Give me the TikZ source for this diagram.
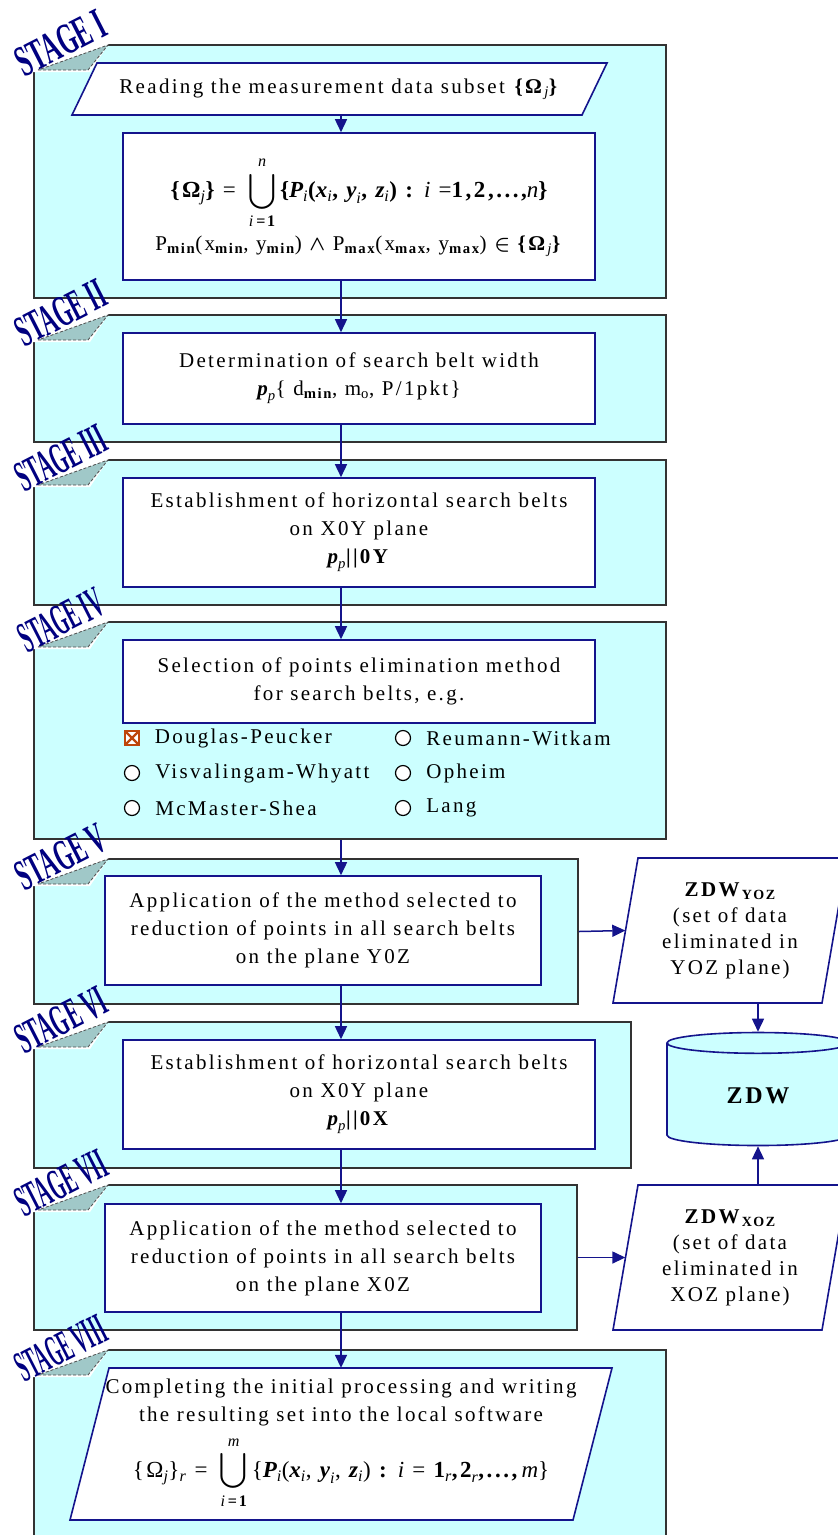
\documentclass[tikz,border=0pt]{standalone}
\usepackage{amsmath}
\usepackage{exscale}
\usepackage{fontspec}
\setmainfont{Liberation Serif}[LetterSpace=11]
\newfontfamily\lblfont{Liberation Serif}
\usetikzlibrary{shapes.geometric, arrows.meta, positioning}
\definecolor{panelcyan}{RGB}{204,255,255}
\definecolor{boxnavy}{RGB}{20,20,140}
\definecolor{lblnavy}{RGB}{0,0,128}
\definecolor{tabgrey}{RGB}{160,200,200}
\definecolor{checkred}{RGB}{190,70,10}
\newcommand{\boxfont}{\fontsize{21}{28}\selectfont}
\newcommand{\frmfont}{\fontsize{23}{28}\selectfont}
\newcommand{\bsym}[1]{\text{\bfseries #1}}
\newcommand{\bis}[1]{\text{\bfseries\itshape #1}}
% grey tab + word-art label at the top left corner of a stage panel (top edge y=#2)
\newcommand{\stagelabel}[4]{%
  \fill[white] (31,#2-3) -- (110,#2-3) -- (90,#2+27) -- (31,#2+27) -- cycle;
  \filldraw[fill=tabgrey, draw=black!70, densely dashed, line width=0.8pt] (38,#2+25) -- (88,#2+25) -- (108,#2) -- cycle;
  \node[stagelbl, xscale=#4] (#1) at (61,#2-2) {#3};}

\begin{document}
\begin{tikzpicture}[
    x=1pt, y=-1pt,
    panel/.style={rectangle, draw=black!80, line width=1.8pt, fill=panelcyan, inner sep=0},
    box/.style={rectangle, draw=boxnavy, line width=1.6pt, fill=white, align=center, inner sep=0, font=\boxfont},
    txt/.style={align=center, inner sep=0, font=\boxfont},
    paraline/.style={draw=boxnavy, line width=1.6pt, fill=white},
    arrow/.style={-{Triangle[length=13pt, width=12pt]}, line width=1.5pt, boxnavy},
    radio/.style={circle, draw=black, line width=1.2pt, fill=white, minimum size=15, inner sep=0},
    chk/.style={rectangle, draw=checkred, line width=1.2pt, fill=white, minimum size=14, inner sep=0,
        path picture={\draw[checkred, line width=2.2pt] (path picture bounding box.north west) -- (path picture bounding box.south east)
            (path picture bounding box.north east) -- (path picture bounding box.south west);}},
    opt/.style={font=\boxfont, inner sep=0},
    stagelbl/.style={font=\lblfont\fontsize{22}{22}\selectfont\bfseries, text=lblnavy, rotate=27, yscale=2.0, inner sep=0}
]
\useasboundingbox (0,0) rectangle (838,1535);
\clip (0,0) rectangle (838,1535);

% stage panels
\node[panel, minimum width=632, minimum height=253] (st1) at (350,171.5) {};
\node[panel, minimum width=632, minimum height=127] (st2) at (350,378.5) {};
\node[panel, minimum width=632, minimum height=145] (st3) at (350,532.5) {};
\node[panel, minimum width=632, minimum height=217] (st4) at (350,730.5) {};
\node[panel, minimum width=544, minimum height=145] (st5) at (306,931.5) {};
\node[panel, minimum width=597, minimum height=146] (st6) at (332.5,1095) {};
\node[panel, minimum width=543, minimum height=145] (st7) at (305.5,1257.5) {};
\node[panel, minimum width=632, minimum height=195] (st8) at (350,1447.5) {};

% stage labels
\stagelabel{lbl1}{45}{STAGE I}{1.1}
\stagelabel{lbl2}{315}{STAGE II}{1.0}
\stagelabel{lbl3}{460}{STAGE III}{0.92}
\stagelabel{lbl4}{622}{STAGE IV}{0.87}
\stagelabel{lbl5}{859}{STAGE V}{1.02}
\stagelabel{lbl6}{1022}{STAGE VI}{0.94}
\stagelabel{lbl7}{1185}{STAGE VII}{0.87}
\stagelabel{lbl8}{1350}{STAGE VIII}{0.8}

\coordinate (ax) at (341,0);
\coordinate (ax2) at (758,0);

% stage I
\draw[paraline] (97,63) -- (607,63) -- (582,115) -- (72,115) -- cycle;
\node[txt, minimum width=510, minimum height=52] (in1) at (339.5,89) {Reading the measurement data subset \textbf{\{Ω}\textsubscript{\itshape j}\textbf{\}}};
\node[box, minimum width=472, minimum height=147] (frm1) at (359,206.5) {{\frmfont$\displaystyle \bsym{\{Ω}_{\textit{j}}\bsym{\}}\text{ = }\bigcup_{\textit{i}\,\bsym{=1}}^{\textit{n}}\bsym{\{}\bis{P}_{\textit{i}}\bsym{(}\bis{x}_{\textit{i}}\bsym{, }\bis{y}_{\textit{i}}\bsym{, }\bis{z}_{\textit{i}}\bsym{) : }\textit{i}\text{ =}\bsym{1,2,...,}\textit{n}\bsym{\}}$}\\[6pt]
P\textsubscript{\bfseries min}(x\textsubscript{\bfseries min}, y\textsubscript{\bfseries min}) $\boldsymbol{\wedge}$ P\textsubscript{\bfseries max}(x\textsubscript{\bfseries max}, y\textsubscript{\bfseries max}) $\boldsymbol{\in}$ \textbf{\{Ω}\textsubscript{\itshape j}\textbf{\}}};

% stage II
\node[box, minimum width=472, minimum height=91] (box2) at (359,378.5) {Determination of search belt width\\$\bis{p}_{\textit{p}}$\{ d\textsubscript{\bfseries min}, m\textsubscript{o}, P/1pkt\}};

% stage III
\node[box, minimum width=472, minimum height=109] (box3) at (359,532.5) {Establishment of horizontal search belts\\on X0Y plane\\$\bis{p}_{\textit{p}}$\textbf{||0Y}};

% stage IV
\node[box, minimum width=472, minimum height=83] (box4) at (359,681.5) {Selection of points elimination method\\for search belts, e.g.};
\node[chk] (c1) at (132,738) {};
\node[opt, right=15pt of c1] (o1) {Douglas-Peucker};
\node[radio] (c2) at (132,773) {};
\node[opt, right=15pt of c2] (o2) {Visvalingam-Whyatt};
\node[radio] (c3) at (132,808) {};
\node[opt, right=15pt of c3] (o3) {McMaster-Shea};
\node[radio] (c4) at (403,738) {};
\node[opt, right=15pt of c4] (o4) {Reumann-Witkam};
\node[radio] (c5) at (403,773) {};
\node[opt, right=15pt of c5] (o5) {Opheim};
\node[radio] (c6) at (403,808) {};
\node[opt, right=15pt of c6] (o6) {Lang};

% stage V
\node[box, minimum width=436, minimum height=109] (box5) at (323,930.5) {Application of the method selected to\\reduction of points in all search belts\\on the plane Y0Z};

% stage VI
\node[box, minimum width=472, minimum height=109] (box6) at (359,1094.5) {Establishment of horizontal search belts\\on X0Y plane\\$\bis{p}_{\textit{p}}$\textbf{||0X}};

% stage VII
\node[box, minimum width=436, minimum height=108] (box7) at (323,1258) {Application of the method selected to\\reduction of points in all search belts\\on the plane X0Z};

% stage VIII
\draw[paraline] (109,1368) -- (612,1368) -- (573,1520) -- (70,1520) -- cycle;
\node[txt, minimum width=503, minimum height=152] (out8) at (341,1444) {Completing the initial processing and writing\\the resulting set into the local software\\[9pt]
{\frmfont$\displaystyle \text{\{Ω}_{\textit{j}}\text{\}}_{\textit{r}}\text{ = }\bigcup_{\textit{i}\,\bsym{=1}}^{\textit{m}}\text{\{}\bis{P}_{\textit{i}}\text{(}\bis{x}_{\textit{i}}\text{, }\bis{y}_{\textit{i}}\text{, }\bis{z}_{\textit{i}}\text{)}\bsym{ : }\textit{i}\text{ = }\bsym{1}_{\textit{r}}\bsym{,2}_{\textit{r}}\bsym{,...,}\,\textit{m}\text{\}}$}};

% eliminated data sets and database
\draw[paraline] (638,858) -- (847,858) -- (822,1003) -- (613,1003) -- cycle;
\node[txt, minimum width=209, minimum height=145, font=\fontsize{21}{26}\selectfont] (zyoz) at (730,930.5) {\textbf{ZDW}\raisebox{-3pt}{\fontsize{14}{14}\selectfont\bfseries YOZ}\\(set of data\\eliminated in\\YOZ plane)};
\draw[paraline] (638,1185) -- (847,1185) -- (822,1330) -- (613,1330) -- cycle;
\node[txt, minimum width=209, minimum height=145, font=\fontsize{21}{26}\selectfont] (zxoz) at (730,1257.5) {\textbf{ZDW}\raisebox{-3pt}{\fontsize{14}{14}\selectfont\bfseries XOZ}\\(set of data\\eliminated in\\XOZ plane)};
\node[cylinder, shape border rotate=90, aspect=0.3, draw=boxnavy, line width=1.6pt, fill=panelcyan, minimum width=182, minimum height=113, font=\fontsize{24}{24}\selectfont\bfseries] (zdw) at (758,1096) {ZDW};

% connectors
\draw[arrow] (in1.south -| ax) -- (frm1.north -| ax);
\draw[arrow] (frm1.south -| ax) -- (box2.north -| ax);
\draw[arrow] (box2.south -| ax) -- (box3.north -| ax);
\draw[arrow] (box3.south -| ax) -- (box4.north -| ax);
\draw[arrow] (st4.south -| ax) -- (box5.north -| ax);
\draw[arrow] (box5.south -| ax) -- (box6.north -| ax);
\draw[arrow] (box6.south -| ax) -- (box7.north -| ax);
\draw[arrow] (box7.south -| ax) -- (out8.north -| ax);
\draw[arrow] (st5.east) -- (zyoz.west);
\draw[arrow] (st7.east) -- (zxoz.west);
\draw[arrow] (zyoz.south -| ax2) -- (zdw.north);
\draw[arrow] (zxoz.north -| ax2) -- (zdw.south);

\end{tikzpicture}
\end{document}
